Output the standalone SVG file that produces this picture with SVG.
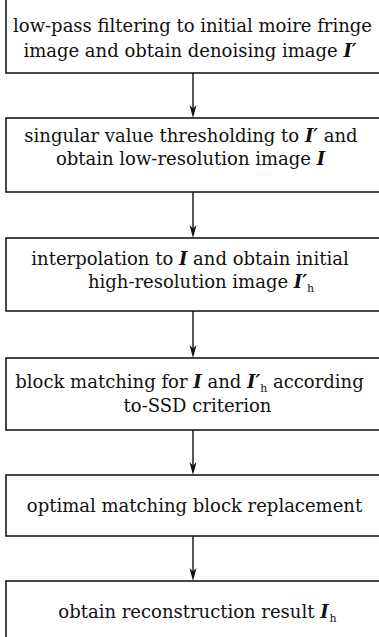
<svg xmlns="http://www.w3.org/2000/svg" width="379" height="637" viewBox="0 0 379 637">
<style>
.box{fill:#fff;stroke:#1a1a1a;stroke-width:1.6}
.t{font-family:"DejaVu Serif","Liberation Serif",serif;font-size:18px;fill:#111;text-anchor:middle}
.v{font-weight:bold;font-style:italic}
.s{font-size:11px}
.c{stroke:#111;stroke-width:1.4;fill:none}
.h{fill:#111;stroke:none}
</style>
<rect width="379" height="637" fill="#fff"/>
<g id="n1">
<rect class="box" x="6" y="-2" width="380" height="75"/>
<text class="t" x="192.5" y="32">low-pass filtering to initial moire fringe</text>
<text class="t" x="190" y="57">image and obtain denoising image <tspan class="v">I′</tspan></text>
</g>
<g id="n2">
<rect class="box" x="6" y="118" width="380" height="74"/>
<text class="t" x="191" y="142">singular value thresholding to <tspan class="v">I′</tspan> and</text>
<text class="t" x="190.5" y="165">obtain low-resolution image <tspan class="v">I</tspan></text>
</g>
<g id="n3">
<rect class="box" x="6" y="238" width="380" height="73"/>
<text class="t" x="190" y="265">interpolation to <tspan class="v">I</tspan> and obtain initial</text>
<text class="t" x="201" y="288">high-resolution image <tspan class="v">I′</tspan><tspan class="s" dy="4">h</tspan></text>
</g>
<g id="n4">
<rect class="box" x="6" y="358" width="380" height="72"/>
<text class="t" x="189.5" y="388">block matching for <tspan class="v">I</tspan> and <tspan class="v">I′</tspan><tspan class="s" dy="4">h</tspan><tspan dy="-4"> according</tspan></text>
<text class="t" x="197.5" y="412">to-SSD criterion</text>
</g>
<g id="n5">
<rect class="box" x="6" y="475" width="380" height="61"/>
<text class="t" x="194.5" y="512">optimal matching block replacement</text>
</g>
<g id="n6">
<rect class="box" x="6" y="581" width="380" height="60"/>
<text class="t" x="197.5" y="618">obtain reconstruction result <tspan class="v">I</tspan><tspan class="s" dx="1" dy="4">h</tspan></text>
</g>
<g id="connectors">
<line class="c" x1="193" y1="73" x2="193" y2="110"/>
<path class="h" d="M193,118 L189.5,105 L193,108.5 L196.5,105 Z"/>
<line class="c" x1="193" y1="192" x2="193" y2="230"/>
<path class="h" d="M193,238 L189.5,225 L193,228.5 L196.5,225 Z"/>
<line class="c" x1="193" y1="311" x2="193" y2="350"/>
<path class="h" d="M193,358 L189.5,345 L193,348.5 L196.5,345 Z"/>
<line class="c" x1="193" y1="430" x2="193" y2="467"/>
<path class="h" d="M193,475 L189.5,462 L193,465.5 L196.5,462 Z"/>
<line class="c" x1="193" y1="536" x2="193" y2="573"/>
<path class="h" d="M193,581 L189.5,568 L193,571.5 L196.5,568 Z"/>
</g>
</svg>
